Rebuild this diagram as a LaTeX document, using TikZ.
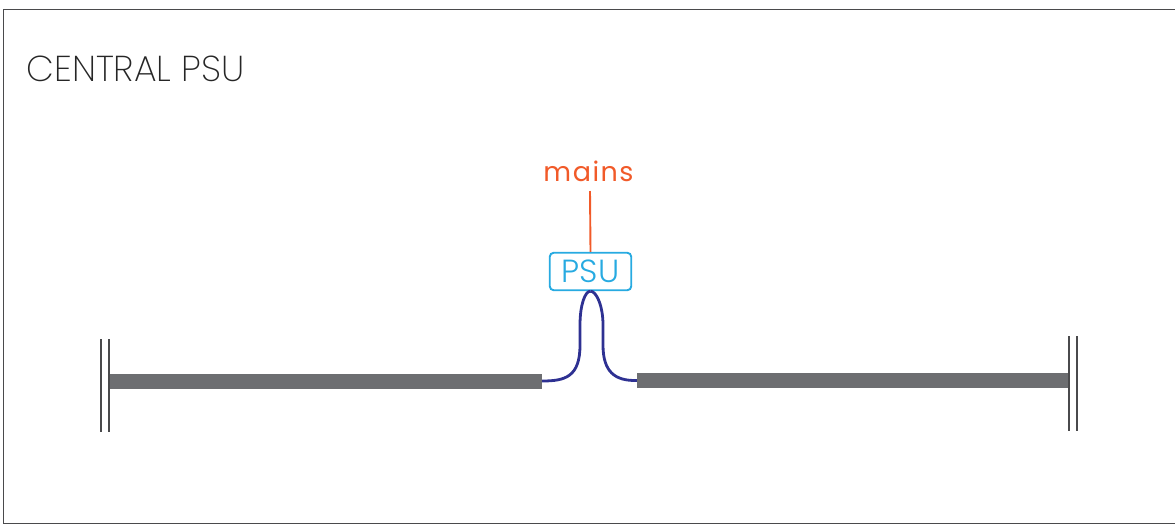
\documentclass[tikz,border=0pt]{standalone}
\usepackage{fontspec}
\setmainfont{Poppins Light}
\newfontfamily\titlefont{Poppins ExtraLight}
\newfontfamily\mainsfont{Poppins}
\definecolor{framec}{HTML}{4A4A4C}
\definecolor{barc}{HTML}{6D6E71}
\definecolor{mainsc}{HTML}{F15A29}
\definecolor{psuc}{HTML}{27AAE1}
\definecolor{cablec}{HTML}{2E3192}
\tikzset{
  bar/.style={fill=barc,draw=none},
  endwall/.style={draw=framec,line width=1.8pt},
  cable/.style={draw=cablec,line width=2.8pt},
  titletext/.style={text=black!85,font=\titlefont\fontsize{36}{36}\selectfont,anchor=base west,inner sep=0pt},
}
\begin{document}
\begin{tikzpicture}[x=1pt,y=-1pt]
\useasboundingbox (0,0) rectangle (1175,528);
\draw[framec,line width=1pt] (1175,9.5) -- (3.5,9.5) -- (3.5,523.5) -- (1175,523.5);
\node[titletext] (title) at (26.5,81) {CENTRAL PSU};
\node[text=mainsc,font=\mainsfont\fontsize{27}{27}\selectfont,anchor=base,inner sep=0pt] (mains) at (588.5,181) {m\kern1.5pt a\kern1.5pt i\kern1.5pt n\kern1.5pt s};
\node[draw=psuc,line width=1.9pt,rounded corners=4pt,minimum width=81.5pt,minimum height=37.5pt,inner sep=0pt,text=psuc,font=\fontsize{32}{32}\selectfont] (psu) at (590.5,271.5) {PSU};
\coordinate (mainsend) at (590,191);
\draw[mainsc,line width=1.9pt] (mainsend) -- (psu.north);
\node[bar,minimum width=433pt,minimum height=15pt,inner sep=0pt] (barl) at (325.5,381) {};
\node[bar,minimum width=433pt,minimum height=15pt,inner sep=0pt] (barr) at (853.5,380.5) {};
\coordinate (wl1a) at (101,339); \coordinate (wl1b) at (101,432);
\coordinate (wl2a) at (109,339); \coordinate (wl2b) at (109,432);
\coordinate (wr1a) at (1069.3,336); \coordinate (wr1b) at (1069.3,430.5);
\coordinate (wr2a) at (1077.3,336); \coordinate (wr2b) at (1077.3,430.5);
\draw[endwall] (wl1a) -- (wl1b);
\draw[endwall] (wl2a) -- (wl2b);
\draw[endwall] (wr1a) -- (wr1b);
\draw[endwall] (wr2a) -- (wr2b);
\draw[cable] (barl.east) .. controls (565,381) and (580,377) .. (580,345)
  -- (580,325) .. controls (580,305) and (585,291) .. (psu.south);
\draw[cable] (barr.west) .. controls (615,381) and (603,372) .. (603,345)
  -- (603,325) .. controls (603,305) and (596,291) .. (psu.south);
\end{tikzpicture}
\end{document}
